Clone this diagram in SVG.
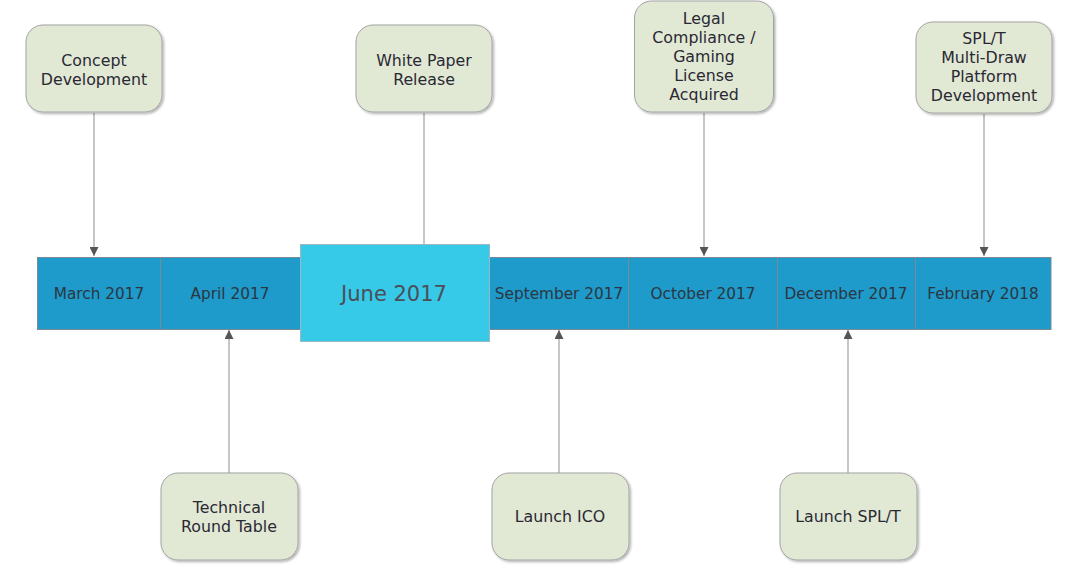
<svg xmlns="http://www.w3.org/2000/svg" width="1075" height="587" viewBox="0 0 1075 587">
<style>
.box{fill:#e1e9d5;stroke:#a3a3a3;stroke-width:1;filter:url(#sh)}
.t{font-family:"DejaVu Sans","Liberation Sans",sans-serif;font-size:15.8px;fill:#2a2833;text-anchor:middle}
.cell{fill:#1e9acb;stroke:#7a8a94;stroke-width:1}
.m{font-family:"DejaVu Sans","Liberation Sans",sans-serif;font-size:15.3px;fill:#2c3640;text-anchor:middle}
.c{stroke:#b3b3b3;stroke-width:1.5;fill:none}
</style>
<defs>
<filter id="sh" x="-10%" y="-10%" width="125%" height="125%">
<feDropShadow dx="1.5" dy="1.5" stdDeviation="1" flood-color="#000" flood-opacity="0.3"/>
</filter>
<marker id="ar" viewBox="0 0 10 10" refX="10" refY="5" markerWidth="9" markerHeight="9" markerUnits="userSpaceOnUse" orient="auto">
<path d="M0,0 L10,5 L0,10 z" fill="#555"/>
</marker>
</defs>
<rect width="1075" height="587" fill="#fff"/>
<g id="connectors">
<line class="c" x1="94" y1="113" x2="94" y2="256" marker-end="url(#ar)"/>
<line class="c" x1="424" y1="113" x2="424" y2="245"/>
<line class="c" x1="704" y1="113" x2="704" y2="256" marker-end="url(#ar)"/>
<line class="c" x1="984" y1="114" x2="984" y2="256" marker-end="url(#ar)"/>
<line class="c" x1="229" y1="473" x2="229" y2="330" marker-end="url(#ar)"/>
<line class="c" x1="559" y1="473" x2="559" y2="330" marker-end="url(#ar)"/>
<line class="c" x1="848" y1="473" x2="848" y2="330" marker-end="url(#ar)"/>
</g>
<g id="timeline">
<g id="march"><rect class="cell" x="37.5" y="257.5" width="123" height="72"/><text class="m" x="99" y="298.5">March 2017</text></g>
<g id="april"><rect class="cell" x="160.5" y="257.5" width="140" height="72"/><text class="m" x="230" y="298.5">April 2017</text></g>
<g id="september"><rect class="cell" x="489.5" y="257.5" width="139" height="72"/><text class="m" x="559" y="298.5">September 2017</text></g>
<g id="october"><rect class="cell" x="628.5" y="257.5" width="149" height="72"/><text class="m" x="703" y="298.5">October 2017</text></g>
<g id="december"><rect class="cell" x="777.5" y="257.5" width="138" height="72"/><text class="m" x="846" y="298.5">December 2017</text></g>
<g id="february"><rect class="cell" x="915.5" y="257.5" width="135.5" height="72"/><text class="m" x="983" y="298.5">February 2018</text></g>
<g id="june"><rect x="300.5" y="244.5" width="189" height="97" fill="#37c9e8" stroke="#9ab8c4" stroke-width="1"/><text class="m" x="394" y="300.5" style="font-size:21px;fill:#4a4f58">June 2017</text></g>
</g>
<g id="concept"><rect class="box" x="26" y="25" width="136" height="87" rx="17"/><text class="t" x="94" y="65.5">Concept</text><text class="t" x="94" y="84.5">Development</text></g>
<g id="whitepaper"><rect class="box" x="356" y="25" width="136" height="87" rx="17"/><text class="t" x="424" y="65.5">White Paper</text><text class="t" x="424" y="84.5">Release</text></g>
<g id="legal"><rect class="box" x="634.5" y="1" width="139" height="111" rx="17"/><text class="t" x="704" y="24">Legal</text><text class="t" x="704" y="43">Compliance /</text><text class="t" x="704" y="62">Gaming</text><text class="t" x="704" y="81">License</text><text class="t" x="704" y="100">Acquired</text></g>
<g id="splt"><rect class="box" x="916" y="22" width="136" height="91" rx="17"/><text class="t" x="984" y="44">SPL/T</text><text class="t" x="984" y="63">Multi-Draw</text><text class="t" x="984" y="82">Platform</text><text class="t" x="984" y="101">Development</text></g>
<g id="technical"><rect class="box" x="161" y="473" width="137" height="87" rx="17"/><text class="t" x="229" y="513">Technical</text><text class="t" x="229" y="532">Round Table</text></g>
<g id="launchico"><rect class="box" x="492" y="473" width="137" height="87" rx="17"/><text class="t" x="560" y="522">Launch ICO</text></g>
<g id="launchsplt"><rect class="box" x="780" y="473" width="137" height="87" rx="17"/><text class="t" x="848" y="522">Launch SPL/T</text></g>
</svg>
